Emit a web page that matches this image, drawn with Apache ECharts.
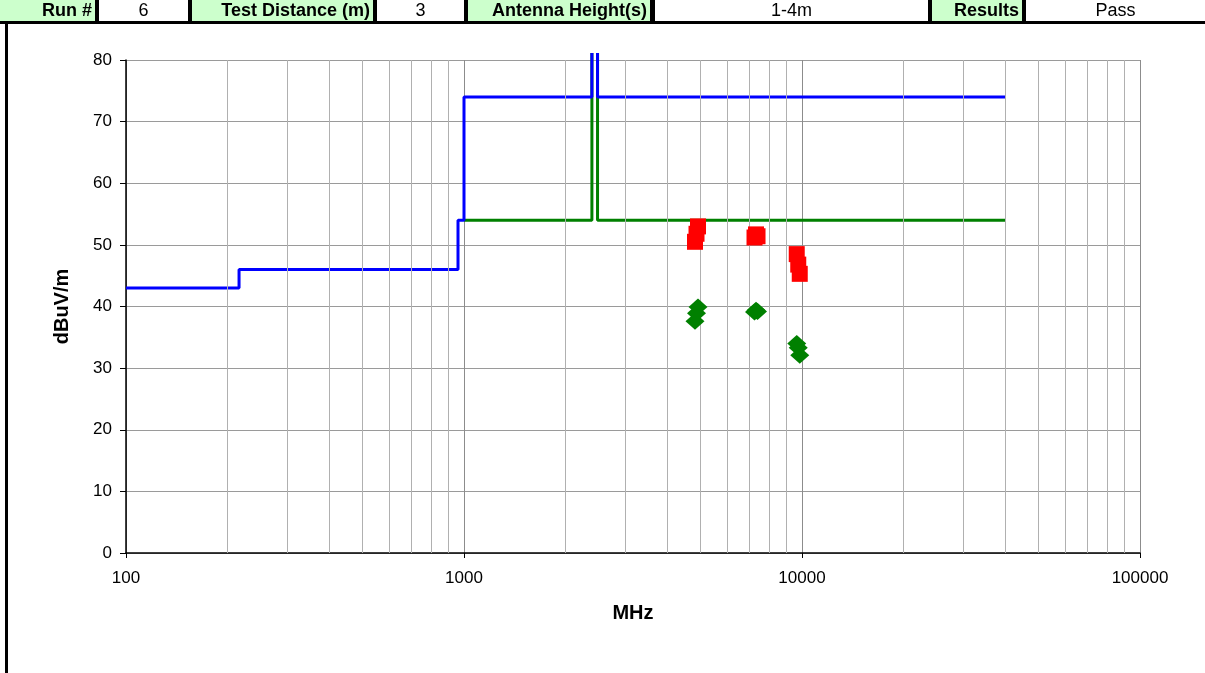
<!DOCTYPE html>
<html>
<head>
<meta charset="utf-8">
<script src="https://cdn.jsdelivr.net/npm/echarts@6/dist/echarts.min.js"></script>
<style>
html,body{margin:0;padding:0;background:#fff;}
#chart{width:1205px;height:673px;}
</style>
</head>
<body>
<div id="chart"></div>
<script>
// ---- data ----
const peakLimitFreq = [100, 216, 216, 960, 960, 1000, 1000, 2390, 2390, 2483.5, 2483.5, 40000];
const peakLimitVal  = [43, 43, 46, 46, 54, 54, 74, 74, 120, 120, 74, 74];
const avgLimitFreq  = [1000, 2390, 2390, 2483.5, 2483.5, 40000];
const avgLimitVal   = [54, 54, 120, 120, 54, 54];
const harmFreq = [4824, 4874, 4924, 7236, 7311, 7386, 9648, 9748, 9848];
const peakVal  = [50.5, 51.8, 53.0, 51.2, 51.7, 51.4, 48.5, 46.8, 45.3];
const avgVal   = [37.6, 38.9, 39.9, 39.1, 39.4, 39.2, 34.0, 33.3, 32.1];
const minorGridFreq = [200,300,400,500,600,700,800,900,2000,3000,4000,5000,6000,7000,8000,9000,20000,30000,40000,50000,60000,70000,80000,90000];
const headerLabels = ['Run #', 'Test Distance (m)', 'Antenna Height(s)', 'Results'];
const headerValues = ['6', '3', '1-4m', 'Pass'];

const zip = (a, b) => a.map((v, i) => [v, b[i]]);

// header cells layout [x0, x1]
const labelCells = [[0, 95], [192, 373], [468, 650], [932, 1022]];
const valueCells = [[99, 188], [377, 464], [655, 928], [1026, 1205]];

const graphics = [
  // mask above the plot so the restricted-band spike ends like the reference
  { type: 'rect', z: 100, shape: { x: 560, y: 24, width: 80, height: 29 }, style: { fill: '#fff' }, silent: true },
  { type: 'rect', z: 101, shape: { x: 0, y: 0, width: 1205, height: 24 }, style: { fill: '#000' }, silent: true },
  { type: 'rect', z: 101, shape: { x: 5, y: 24, width: 3, height: 649 }, style: { fill: '#000' }, silent: true }
];
labelCells.forEach((c, i) => {
  graphics.push({ type: 'rect', z: 102, shape: { x: c[0], y: 0, width: c[1] - c[0], height: 21 }, style: { fill: '#CCFFCC' }, silent: true });
  graphics.push({ type: 'text', z: 103, x: c[1] - 3, y: 11, style: { text: headerLabels[i], font: 'bold 18px "Liberation Sans", Arial, sans-serif', fill: '#000', textAlign: 'right', textVerticalAlign: 'middle' }, silent: true });
});
valueCells.forEach((c, i) => {
  graphics.push({ type: 'rect', z: 102, shape: { x: c[0], y: 0, width: c[1] - c[0], height: 21 }, style: { fill: '#FFFFFF' }, silent: true });
  graphics.push({ type: 'text', z: 103, x: (c[0] + c[1]) / 2, y: 11, style: { text: headerValues[i], font: '18px "Liberation Sans", Arial, sans-serif', fill: '#000', textAlign: 'center', textVerticalAlign: 'middle' }, silent: true });
});

const chart = echarts.init(document.getElementById('chart'), null, { renderer: 'canvas' });
const font = '"Liberation Sans", Arial, sans-serif';
chart.setOption({
  animation: false,
  backgroundColor: '#fff',
  textStyle: { fontFamily: font },
  grid: { left: 126, right: 65, top: 60, bottom: 120, containLabel: false },
  xAxis: {
    type: 'log', logBase: 10, min: 100, max: 100000,
    name: 'MHz', nameLocation: 'middle', nameGap: 50,
    nameTextStyle: { fontFamily: font, fontWeight: 'bold', fontSize: 20, color: '#000' },
    axisLine: { show: true, onZero: false, lineStyle: { color: '#000', width: 1.5 } },
    axisTick: { show: true, length: 5, lineStyle: { color: '#000' } },
    axisLabel: { fontFamily: font, fontSize: 17, color: '#000', margin: 17, formatter: v => String(Math.round(v)) },
    splitLine: { show: true, lineStyle: { color: '#8c8c8c', width: 1 } },
    minorTick: { show: false }, minorSplitLine: { show: false }
  },
  yAxis: {
    type: 'value', min: 0, max: 80, interval: 10,
    name: 'dBuV/m', nameLocation: 'middle', nameGap: 54, nameRotate: 90,
    nameTextStyle: { fontFamily: font, fontWeight: 'bold', fontSize: 20, color: '#000' },
    axisLine: { show: true, lineStyle: { color: '#000', width: 1.5 } },
    axisTick: { show: true, length: 6, lineStyle: { color: '#000' } },
    axisLabel: { fontFamily: font, fontSize: 17, color: '#000', margin: 14 },
    splitLine: { show: true, lineStyle: { color: '#9a9a9a', width: 1 } }
  },
  graphic: graphics,
  series: [
    {
      type: 'line', data: [], z: 1, silent: true,
      markLine: {
        silent: true, symbol: ['none', 'none'], animation: false,
        label: { show: false },
        lineStyle: { color: '#b0b0b0', width: 1, type: 'solid' },
        data: minorGridFreq.map(f => ({ xAxis: f }))
      }
    },
    {
      name: 'Average Limit', type: 'line', data: zip(avgLimitFreq, avgLimitVal),
      showSymbol: false, symbol: 'none', clip: false, z: 3,
      lineStyle: { color: '#008000', width: 3 }
    },
    {
      name: 'Peak Limit', type: 'line', data: zip(peakLimitFreq, peakLimitVal),
      showSymbol: false, symbol: 'none', clip: false, z: 4,
      lineStyle: { color: '#0000FF', width: 3 }
    },
    {
      name: 'Peak', type: 'scatter', data: zip(harmFreq, peakVal),
      symbol: 'rect', symbolSize: 16, z: 5,
      itemStyle: { color: '#FF0000', opacity: 1 }
    },
    {
      name: 'Average', type: 'scatter', data: zip(harmFreq, avgVal),
      symbol: 'diamond', symbolSize: [19, 17], z: 5,
      itemStyle: { color: '#008000', opacity: 1 }
    }
  ]
});
</script>
</body>
</html>
